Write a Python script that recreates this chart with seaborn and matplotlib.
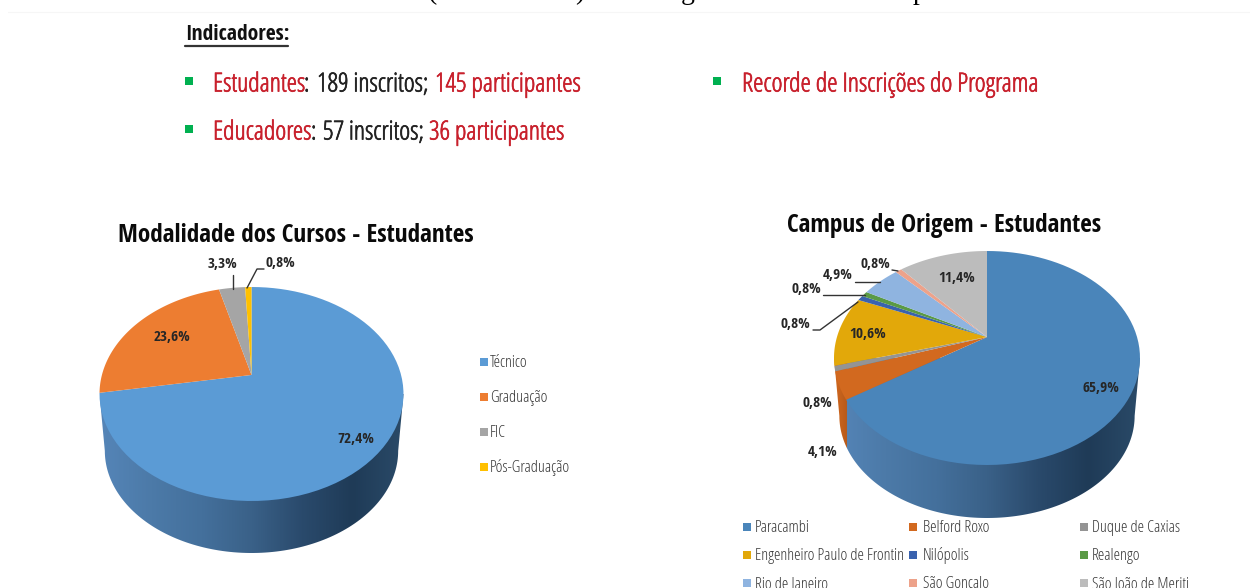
import numpy as np
import matplotlib
matplotlib.use("Agg")
import matplotlib.pyplot as plt
import matplotlib.patheffects as pe
import seaborn as sns
from matplotlib.patches import Polygon

modalidade_labels = ["Técnico", "Graduação", "FIC", "Pós-Graduação"]
modalidade_values = [72.4, 23.6, 3.3, 0.8]
modalidade_colors = ["#5b9bd5", "#ed7d31", "#a5a5a5", "#ffc000"]

campus_labels = ["Paracambi", "Belford Roxo", "Duque de Caxias",
                 "Engenheiro Paulo de Frontin", "Nilópolis", "Realengo",
                 "Rio de Janeiro", "São Gonçalo", "São João de Meriti"]
campus_values = [65.9, 4.1, 0.8, 10.6, 0.8, 0.8, 4.9, 0.8, 11.4]
campus_colors = ["#4a85ba", "#d2691f", "#949494", "#e2a80a", "#3a62ae",
                 "#5a9a45", "#8fb4e0", "#eda28a", "#bcbcbc"]

sns.set_theme(style="white")
plt.rcParams["font.family"] = ["Open Sans", "DejaVu Sans"]
plt.rcParams["font.stretch"] = "condensed"
bold_font = ["Open Sans Condensed", "Open Sans", "DejaVu Sans"]

fig = plt.figure(figsize=(12.5, 5.88), dpi=100)
ax = fig.add_axes([0, 0, 1, 1])


def pct(v):
    return f"{v:.1f}%".replace(".", ",")


# 3D look: disc is tilted with perspective, so the apex sits above the ellipse centre
def warp(x, y, cx, cy, rx, ry, b):
    k = 1 + b * y
    return cx + rx * x * np.sqrt(1 - b ** 2) / k, cy - ry * (y + b) / k


def pie3d(values, colors, cx, cy, rx, ry, b, depth, side_stops, side_split=None):
    wedges, _ = ax.pie(values, colors=colors, startangle=90, counterclock=False, radius=1)
    polys = []
    for w, c in zip(wedges, colors):
        t = np.radians(np.linspace(w.theta1, w.theta2, 80))
        x = np.r_[0, np.cos(t)]
        y = np.r_[0, np.sin(t)]
        px, py = warp(x, y, cx, cy, rx, ry, b)
        polys.append(Polygon(np.c_[px, py], closed=True, fc=c, ec="none", zorder=3))
        w.remove()
    ax.set_aspect("auto")

    # side wall, gradient clipped to the outline below the disc
    t = np.radians(np.linspace(180, 360, 120))
    rx2, ry2 = rx * 0.965, ry * 0.955
    bx = cx + rx2 * np.cos(t)
    by = cy + depth + (ry - ry2) - ry2 * np.sin(t)
    outline = np.r_[[[cx - rx, cy]], np.c_[bx, by], [[cx + rx, cy]]]
    cmap = sns.blend_palette(side_stops, n_colors=256, as_cmap=True)
    grad = cmap(np.linspace(0, 1, 400))[None, :, :]
    if side_split is not None:
        cols = np.linspace(cx - rx, cx + rx, 400)
        split_cmap = sns.blend_palette(side_split[1], n_colors=256, as_cmap=True)
        mask = cols < side_split[0]
        grad[0, mask] = split_cmap(np.linspace(0, 1, mask.sum()))
    im = ax.imshow(grad, extent=[cx - rx, cx + rx, cy + ry + depth + 2, cy - 2],
                   aspect="auto", zorder=2)
    clip = Polygon(outline, closed=True, transform=ax.transData, fc="none", ec="none")
    ax.add_patch(clip)
    im.set_clip_path(clip)
    for p in polys:
        ax.add_patch(p)


side_blue = ["#5585b8", "#4c7aa8", "#44709c", "#3a6188", "#2a4a6c", "#1f3b57", "#2a4a68"]
pie3d(modalidade_values, modalidade_colors, 251.5, 394, 152, 107, 0.178, 52, side_blue)
pie3d(campus_values, campus_colors, 987, 358, 153, 107, 0.196, 53, side_blue,
      side_split=(847, ["#d2691f", "#b85a1a"]))

ax.set_xlim(0, 1250)
ax.set_ylim(588, 0)
ax.axis("off")

# cropped line of text from the page above the slide
for x, s in [(432, "("), (580, ")"), (688, "g"), (920, "p")]:
    ax.text(x, -1, s, family="Liberation Serif", fontsize=20, color="black", ha="center", va="baseline")
ax.plot([8, 1250], [12, 12], color="#f6f6f6", lw=0.8)

# header text
red = "#c8202c"
dark = "#222222"
hdr = 18.9
ax.text(185, 35, "Indicadores:", family=bold_font, fontsize=15.7, fontweight="bold", color="#111111", va="center")
ax.plot([185, 288], [46, 46], color="#333333", lw=1.6)
bullets_x = [189, 189, 717]
bullets_y = [81, 129, 81]
ax.scatter(bullets_x, bullets_y, marker="s", s=26, color="#00b050", linewidths=0)
for x, y, s, c in [(213, 85, "Estudantes", red), (304, 85, ":", dark),
                   (317, 85, "189 inscritos;", dark), (435, 85, "145 participantes", red),
                   (213, 133, "Educadores", red), (311, 133, ":", dark),
                   (323, 133, "57 inscritos;", dark), (429, 133, "36 participantes", red),
                   (742, 85, "Recorde de Inscrições do Programa", red)]:
    ax.text(x, y, s, fontsize=hdr, color=c, va="center",
            path_effects=[pe.withStroke(linewidth=0.5, foreground=c)])

# titles
ax.text(295.5, 236, "Modalidade dos Cursos - Estudantes", family=bold_font, fontsize=18.2, fontweight="bold",
        color="#0a0a0a", ha="center", va="center")
ax.text(944.5, 225, "Campus de Origem - Estudantes", family=bold_font, fontsize=18.2, fontweight="bold",
        color="#0a0a0a", ha="center", va="center")

# data labels
lbl = "#262626"
mod_pos = [(356, 439), (172, 337), (222, 264), (280, 263)]
for v, (x, y) in zip(modalidade_values, mod_pos):
    ax.text(x, y, pct(v), family=bold_font, fontsize=11, fontweight="bold", color=lbl, ha="center", va="center")
camp_pos = [(1101, 388), (823, 452), (817, 403), (868, 334), (795, 324),
            (806, 289), (838, 275), (875, 264), (957, 278)]
for v, (x, y) in zip(campus_values, camp_pos):
    ax.text(x, y, pct(v), family=bold_font, fontsize=11, fontweight="bold", color=lbl, ha="center", va="center")

# leader lines
for xs, ys in [([233, 233], [275, 289]), ([247, 257, 264], [288, 269, 269]),
               ([813, 820, 858], [330, 330, 302]), ([823, 865], [295, 295]),
               ([855, 880], [282, 282]), ([892, 898], [270, 271])]:
    ax.plot(xs, ys, color="#333333", lw=1.0, zorder=4)

# legends
leg_y = [362, 397, 432, 467]
ax.scatter([484] * 4, leg_y, marker="s", s=36, c=modalidade_colors, linewidths=0)
for name, y in zip(modalidade_labels, leg_y):
    ax.text(490, y + 1, name, fontsize=11.8, color="#383838", va="center")

leg_x = [747, 913, 1084]
txt_x = [755, 923, 1092]
for i, (name, c) in enumerate(zip(campus_labels, campus_colors)):
    y = 527 + 28 * (i // 3)
    ax.scatter(leg_x[i % 3], y, marker="s", s=36, color=c, linewidths=0)
    ax.text(txt_x[i % 3], y + 1, name, fontsize=11.8, color="#383838", va="center")

fig.savefig("out.png", dpi=100)
